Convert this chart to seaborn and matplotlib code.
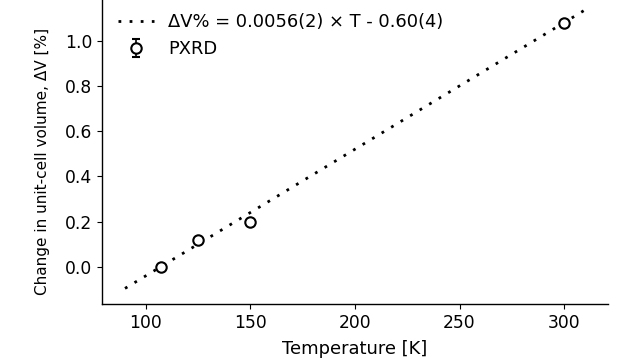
import matplotlib
matplotlib.use("Agg")
import matplotlib.pyplot as plt
import seaborn as sns
import numpy as np
import pandas as pd

# Data
temperature = [107, 125, 150, 300]
delta_v = [0.0, 0.116, 0.197, 1.077]
delta_v_err = [0.012, 0.012, 0.012, 0.012]

fit_T = [90, 310]
slope = 0.0056
intercept = -0.60
fit_label = "ΔV% = 0.0056(2) × T - 0.60(4)"
point_label = "PXRD"

sns.set_style("ticks", {"axes.edgecolor": "black", "text.color": "black",
                        "xtick.color": "black", "ytick.color": "black",
                        "axes.labelcolor": "black"})
plt.rcParams['font.family'] = ['DejaVu Sans']
plt.rcParams['xtick.major.size'] = 3.5
plt.rcParams['ytick.major.size'] = 3.5
plt.rcParams['axes.linewidth'] = 1.0

fig = plt.figure(figsize=(6.4, 3.62), dpi=100)
ax = fig.add_axes([102/640, (362-304)/362, (608-102)/640, 304/362])

fit_df = pd.DataFrame({"T": fit_T, "dV": [slope * t + intercept for t in fit_T]})
sns.lineplot(data=fit_df, x="T", y="dV", ax=ax, color="black",
             linestyle=(0, (1, 3)), linewidth=2, label=fit_label)

ax.errorbar(temperature, delta_v, yerr=delta_v_err, fmt="o", mfc="white",
            mec="black", ecolor="black", ms=7.5, mew=1.5, capsize=3,
            elinewidth=1.2, label=point_label, zorder=3)

ax.set_xlabel("Temperature [K]", fontsize=12.9, labelpad=6)
ax.set_ylabel("Change in unit-cell volume, ΔV [%]", fontsize=11.0)
ax.yaxis.set_label_coords(-0.102, 0.47)
ax.set_xlim(79, 321)
ax.set_ylim(-0.165, 1.18)
ax.set_xticks([100, 150, 200, 250, 300])
ax.set_yticks([0.0, 0.2, 0.4, 0.6, 0.8, 1.0])
ax.tick_params(labelsize=12.3)
sns.despine(ax=ax)
ax.legend(loc="upper left", frameon=False, fontsize=12.9,
          bbox_to_anchor=(0.0, 1.01))

fig.savefig("out.png", dpi=100)
